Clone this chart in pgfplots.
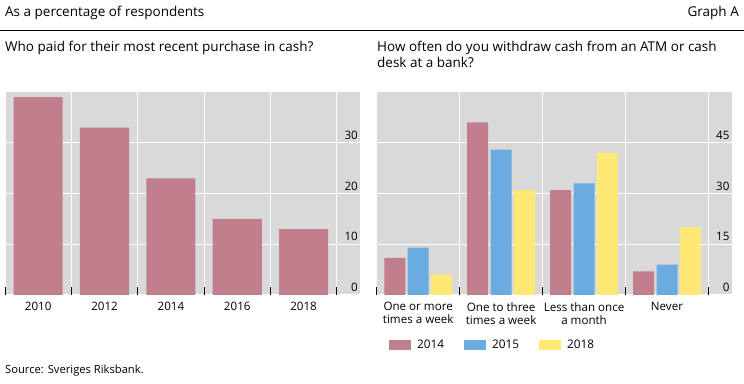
\documentclass[border=0pt]{standalone}
\usepackage{fontspec}
\setmainfont{Open Sans}
\usepackage{pgfplots}
\pgfplotsset{compat=1.18}
\definecolor{bg}{RGB}{217,217,217}
\definecolor{c14}{RGB}{193,127,142}
\definecolor{c15}{RGB}{106,172,224}
\definecolor{c18}{RGB}{255,232,115}
\pgfplotsset{panel/.style={
  scale only axis, width=355bp, height=203bp,
  axis background/.style={fill=bg},
  axis line style={draw=none},
  ymin=0, xmin=-0.5,
  ymajorgrids, major grid style={white, line width=1bp},
  xminorgrids, minor grid style={white, line width=1bp},
  ytick pos=right, yticklabel pos=right,
  xtick pos=bottom,
  major tick length=0pt,
  minor tick length=8bp,
  minor tick style={black, line width=0.9bp},
  tick align=inside,
  /pgf/number format/assume math mode=true,
  tick label style={font=\fontsize{11.6bp}{13bp}\selectfont},
  yticklabel style={anchor=south east, inner sep=1bp, xshift=-1bp, yshift=2bp},
  xticklabel style={align=center, inner sep=2bp, yshift=-5bp},
}}
\begin{document}
\fontsize{13.5bp}{16bp}\selectfont
\begin{tikzpicture}
\path[use as bounding box] (0,0) rectangle (744bp,384bp);
% header
\node[anchor=base west, inner sep=0pt] at (5bp,{(384-16)*1bp}) {As a percentage of respondents};
\node[anchor=base east, inner sep=0pt] at (739bp,{(384-16)*1bp}) {Graph A};
\draw[black, line width=1bp] (0bp,{(384-31)*1bp}) -- (744bp,{(384-31)*1bp});
\node[anchor=base west, inner sep=0pt] at (5bp,{(384-51)*1bp}) {Who paid for their most recent purchase in cash?};
\node[anchor=base west, inner sep=0pt, align=left] at (377bp,{(384-51)*1bp}) {How often do you withdraw cash from an ATM or cash};
\node[anchor=base west, inner sep=0pt, align=left] at (377bp,{(384-67)*1bp}) {desk at a bank?};
\node[anchor=base west, inner sep=0pt, font=\fontsize{11.2bp}{13bp}\selectfont] at (5bp,{(384-373)*1bp}) {Source: Sveriges Riksbank.};

% left panel
\begin{axis}[panel, at={(5bp,89bp)}, anchor=south west,
  xmax=4.85, ymax=40,
  xtick={0,1,2,3,4}, xticklabels={2010,2012,2014,2016,2018},
  minor xtick={-0.5,0.5,1.5,2.5,3.5,4.5},
  ytick={0,10,20,30}]
\addplot[ybar, bar width=0.74, fill=c14, draw=none] coordinates {(0,39) (1,33) (2,23) (3,15) (4,13)};
\end{axis}

% right panel
\begin{axis}[panel, at={(376.7bp,89bp)}, anchor=south west,
  xmax=3.78, ymax=60,
  xtick={0,1,2,3},
  xticklabels={{One or more\\times a week},{One to three\\times a week},{Less than once\\a month},{Never}},
  minor xtick={-0.5,0.5,1.5,2.5,3.5},
  ytick={0,15,30,45},
  legend image code/.code={\path[#1, draw=none] (0bp,-4.5bp) rectangle (22bp,4.5bp);},
  legend style={draw=none, fill=none, inner sep=0pt, legend columns=3,
    at={(axis description cs:0,0)}, anchor=west, xshift=12.3bp, yshift=-50bp,
    nodes={inner sep=0pt, font=\fontsize{11.8bp}{13bp}\selectfont},
    /tikz/every odd column/.append style={column sep=6bp},
    /tikz/every even column/.append style={column sep=20bp}},
]
\addplot[ybar, bar width=0.253, bar shift=-0.282, fill=c14, draw=none] coordinates {(0,11) (1,51) (2,31) (3,7)};
\addlegendentry{2014}
\addplot[ybar, bar width=0.253, bar shift=0, fill=c15, draw=none] coordinates {(0,14) (1,43) (2,33) (3,9)};
\addlegendentry{2015}
\addplot[ybar, bar width=0.253, bar shift=0.282, fill=c18, draw=none] coordinates {(0,6) (1,31) (2,42) (3,20)};
\addlegendentry{2018}
\end{axis}
\end{tikzpicture}
\end{document}
